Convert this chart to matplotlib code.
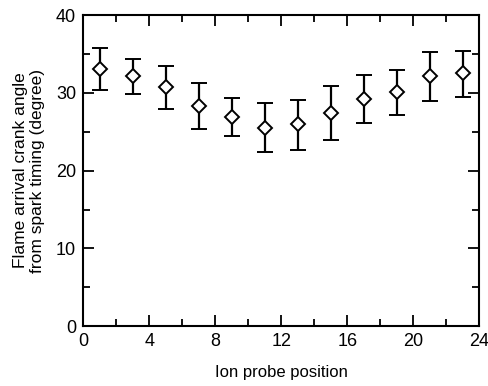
import numpy as np
import matplotlib.pyplot as plt
from matplotlib.ticker import MultipleLocator

plt.rcParams['font.family'] = ['Liberation Sans', 'DejaVu Sans']

position = [1, 3, 5, 7, 9, 11, 13, 15, 17, 19, 21, 23]
angle = [33.0, 32.1, 30.7, 28.3, 26.9, 25.5, 26.0, 27.4, 29.2, 30.1, 32.1, 32.5]
err_low = [2.7, 2.3, 2.8, 2.9, 2.4, 3.1, 3.4, 3.4, 3.1, 3.0, 3.1, 3.0]
err_high = [2.8, 2.3, 2.8, 3.0, 2.4, 3.2, 3.1, 3.5, 3.1, 2.8, 3.2, 2.9]

fig = plt.figure(figsize=(4.89, 3.86), dpi=100)
ax = fig.add_axes([0.17, 0.155, 0.81, 0.806])

ax.errorbar(position, angle, yerr=[err_low, err_high], fmt='D', color='black',
            mfc='white', mec='black', ms=7.5, mew=1.4, elinewidth=1.6,
            capsize=5.5, capthick=1.6)

ax.set_xlim(0, 24)
ax.set_ylim(0, 40)
ax.xaxis.set_major_locator(MultipleLocator(4))
ax.xaxis.set_minor_locator(MultipleLocator(2))
ax.yaxis.set_major_locator(MultipleLocator(10))
ax.yaxis.set_minor_locator(MultipleLocator(5))
ax.tick_params(which='both', direction='in', top=True, right=True,
               width=1.3, labelsize=13)
ax.tick_params(which='major', length=8, pad=5)
ax.tick_params(which='minor', length=5)
for s in ax.spines.values():
    s.set_linewidth(1.5)

ax.set_xlabel('Ion probe position', fontsize=12, labelpad=11)
ax.set_ylabel('Flame arrival crank angle\nfrom spark timing (degree)',
              fontsize=12.5, labelpad=8)

fig.savefig('out.png', dpi=100)
